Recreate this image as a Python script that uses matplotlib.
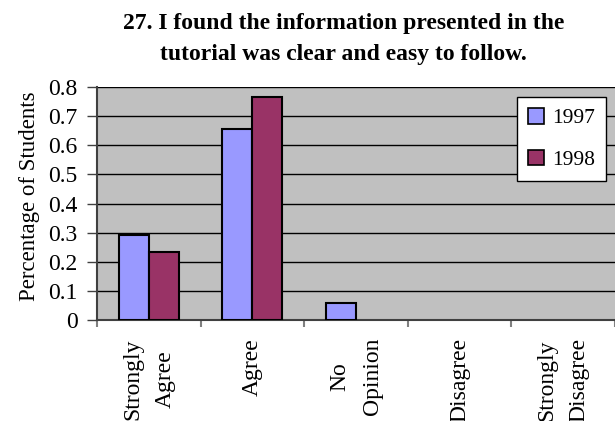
import numpy as np
import matplotlib.pyplot as plt
from matplotlib.patches import Patch

categories = ['Strongly\nAgree', 'Agree', 'No\nOpinion', 'Disagree', 'Strongly\nDisagree']
series_names = ['1997', '1998']
values_1997 = [0.292, 0.655, 0.057, 0.0, 0.0]
values_1998 = [0.235, 0.765, 0.0, 0.0, 0.0]
y_ticks = [0, 0.1, 0.2, 0.3, 0.4, 0.5, 0.6, 0.7, 0.8]
title = '27. I found the information presented in the\ntutorial was clear and easy to follow.'

plt.rcParams['font.family'] = ['Liberation Serif', 'DejaVu Serif']

c1997 = '#9999FF'
c1998 = '#993366'

fig = plt.figure(figsize=(6.15, 4.21), dpi=100)
ax = fig.add_axes([97 / 615, 1 - 320 / 421, 518 / 615, (320 - 87) / 421])
ax.set_facecolor('#C0C0C0')

x = np.arange(len(categories))
w = 0.29
for i in range(len(categories)):
    if values_1997[i] > 0:
        ax.bar(x[i] - w / 2, values_1997[i], w, color=c1997, edgecolor='black', linewidth=1.5, zorder=3)
    if values_1998[i] > 0:
        ax.bar(x[i] + w / 2, values_1998[i], w, color=c1998, edgecolor='black', linewidth=1.5, zorder=3)

ax.set_xlim(-0.5, len(categories) - 0.5)
ax.set_ylim(0, 0.8)
ax.set_yticks(y_ticks)
ax.set_yticklabels(['0' if v == 0 else '%.1f' % v for v in y_ticks], fontsize=17)
ax.yaxis.grid(True, color='black', linewidth=1, zorder=0)
ax.set_axisbelow(True)

# category ticks between groups, labels at centers
ax.set_xticks(np.arange(len(categories) + 1) - 0.5)
ax.set_xticklabels([])
ax.set_xticks(x, minor=True)
ax.set_xticklabels(categories, minor=True, rotation=90, fontsize=17,
                   multialignment='center', va='top', linespacing=1.7)
ax.tick_params(axis='x', which='minor', length=0, pad=13)
ax.tick_params(axis='x', which='major', length=5, direction='out', color='#808080', width=1.5)
ax.tick_params(axis='y', length=7, direction='out', color='#404040', width=1, pad=7)

for s in ['top', 'right']:
    ax.spines[s].set_visible(False)
ax.spines['left'].set_color('#404040')
ax.spines['left'].set_linewidth(1.5)
ax.spines['bottom'].set_color('#404040')
ax.spines['bottom'].set_linewidth(1.5)

ax.set_ylabel('Percentage of Students', fontsize=16.5)
ax.yaxis.set_label_coords(-0.11, 0.53)
fig.text(0.5585, 0.97, title, ha='center', va='top', fontsize=17,
         fontweight='bold', linespacing=1.65)

handles = [Patch(facecolor=c1997, edgecolor='black', linewidth=1.2),
           Patch(facecolor=c1998, edgecolor='black', linewidth=1.2)]
leg = ax.legend(handles, series_names, loc='upper left',
                bbox_to_anchor=((517 - 97) / 518, (320 - 97) / 233),
                fontsize=15.5, frameon=True, fancybox=False,
                handlelength=0.75, handleheight=0.75, handletextpad=0.4,
                labelspacing=1.0, borderpad=0.5, borderaxespad=0)
leg.get_frame().set_edgecolor('black')
leg.get_frame().set_linewidth(1)
leg.get_frame().set_facecolor('white')
leg.get_frame().set_alpha(1)

fig.savefig('out.png', dpi=100)
